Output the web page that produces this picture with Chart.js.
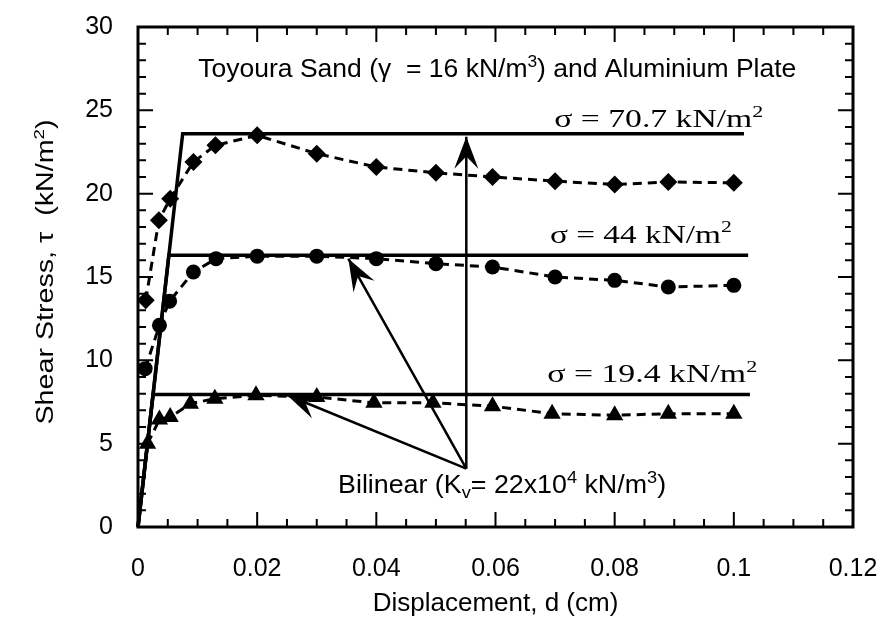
<!DOCTYPE html>
<html>
<head>
<meta charset="utf-8">
<script src="https://cdn.jsdelivr.net/npm/chart.js@4.4.0/dist/chart.umd.min.js"></script>
<style>
  html, body { margin: 0; padding: 0; background: #fff; }
</style>
</head>
<body>
<canvas id="shearChart" width="880" height="622"></canvas>
<script>
// values: displacement d (cm), shear stress tau (kN/m2)

// sigma = 70.7 kN/m2 (diamonds)
const dispHigh = [0.0013, 0.0035, 0.0054, 0.0093, 0.013, 0.02, 0.03, 0.04, 0.05, 0.0595, 0.07, 0.08, 0.089, 0.1];
const tauHigh = [13.6, 18.4, 19.7, 21.9, 22.9, 23.5, 22.4, 21.6, 21.25, 21.0, 20.75, 20.55, 20.7, 20.65];

// sigma = 44 kN/m2 (circles)
const dispMid = [0.0012, 0.0036, 0.0053, 0.0093, 0.0131, 0.02, 0.03, 0.04, 0.05, 0.0595, 0.07, 0.08, 0.089, 0.1];
const tauMid = [9.5, 12.1, 13.55, 15.3, 16.1, 16.25, 16.25, 16.1, 15.8, 15.6, 15.0, 14.8, 14.4, 14.5];

// sigma = 19.4 kN/m2 (triangles)
const dispLow = [0.0016, 0.0036, 0.0054, 0.0088, 0.0129, 0.0198, 0.03, 0.0396, 0.0495, 0.0595, 0.0695, 0.08, 0.089, 0.1];
const tauLow = [5.0, 6.45, 6.6, 7.4, 7.7, 7.9, 7.8, 7.45, 7.45, 7.25, 6.8, 6.7, 6.8, 6.8];

// bilinear model: common initial slope, then a plateau per sigma
const bilinearCornerD = 0.0075;   // d at the top corner
const bilinearTau = [23.6, 16.3, 7.95];
const bilinearEnd = [0.1017, 0.1024, 0.1027];

// arrows from the "Bilinear" label up to each plateau
const arrowTail = [0.0551, 3.5];
const arrowTipD = [0.0551, 0.0353, 0.025];
const arrowTipTau = [23.42, 16.1, 7.92];

const sigmaLabels = ['70.7', '44', '19.4'];

const SANS = "'Liberation Sans', Arial, Helvetica, sans-serif";
const SERIF = "'Liberation Serif', 'Times New Roman', serif";

function toPoints(xs, ys) {
    return xs.map((x, i) => ({ x: x, y: ys[i] }));
}

function bilinearPoints(k) {
    const level = bilinearTau[k];
    const yieldD = bilinearCornerD * level / bilinearTau[0];
    return [{ x: 0, y: 0 }, { x: yieldD, y: level }, { x: bilinearEnd[k], y: level }];
}

function dashed(data, style, radius) {
    return {
        data: data,
        borderColor: '#000',
        backgroundColor: '#000',
        borderWidth: 3,
        borderDash: [9, 6],
        pointStyle: style,
        pointRadius: radius,
        pointBorderWidth: 0,
        clip: false,
    };
}

function solid(data) {
    return {
        data: data,
        borderColor: '#000',
        borderWidth: 3.5,
        pointRadius: 0,
        clip: false,
    };
}

// text with superscripts / subscripts, centred on (cx, baseY);
// width (optional) stretches the run horizontally to that many pixels
function drawRich(ctx, parts, cx, baseY, size, family, width, angle) {
    const small = Math.round(size * 0.66);
    let total = 0;
    parts.forEach(p => {
        ctx.font = (p[1] ? small : size) + 'px ' + family;
        total += ctx.measureText(p[0]).width;
    });
    const sx = width ? width / total : 1;
    ctx.save();
    ctx.translate(cx, baseY);
    if (angle) ctx.rotate(angle);
    ctx.scale(sx, 1);
    let x = -total / 2;
    parts.forEach(p => {
        ctx.font = (p[1] ? small : size) + 'px ' + family;
        let y = 0;
        if (p[1] > 0) y -= size * 0.4;
        if (p[1] < 0) y += size * 0.22;
        ctx.fillText(p[0], x, y);
        x += ctx.measureText(p[0]).width;
    });
    ctx.restore();
}

function arrowHead(ctx, fx, fy, tx, ty, len, width) {
    const ang = Math.atan2(ty - fy, tx - fx);
    const ux = Math.cos(ang), uy = Math.sin(ang);
    const nx = -uy, ny = ux;
    ctx.beginPath();
    ctx.moveTo(tx, ty);
    ctx.lineTo(tx - ux * len + nx * width / 2, ty - uy * len + ny * width / 2);
    ctx.lineTo(tx - ux * len * 0.62, ty - uy * len * 0.62);
    ctx.lineTo(tx - ux * len - nx * width / 2, ty - uy * len - ny * width / 2);
    ctx.closePath();
    ctx.fill();
}

// box round the plot with inward ticks on all four sides
const framePlugin = {
    id: 'frame',
    afterDraw(chart) {
        const { ctx, chartArea: a, scales: { x, y } } = chart;
        ctx.save();
        ctx.strokeStyle = '#000';
        ctx.lineWidth = 2;
        ctx.beginPath();
        for (let i = 1; i < 24; i++) {
            const px = x.getPixelForValue(i * 0.005);
            const len = i % 4 === 0 ? 15 : 8;
            ctx.moveTo(px, a.bottom); ctx.lineTo(px, a.bottom - len);
            ctx.moveTo(px, a.top); ctx.lineTo(px, a.top + len);
        }
        for (let i = 1; i < 30; i++) {
            const py = y.getPixelForValue(i);
            const len = i % 5 === 0 ? 15 : 8;
            ctx.moveTo(a.left, py); ctx.lineTo(a.left + len, py);
            ctx.moveTo(a.right, py); ctx.lineTo(a.right - len, py);
        }
        ctx.stroke();
        ctx.lineWidth = 3;
        ctx.strokeRect(a.left, a.top, a.right - a.left, a.bottom - a.top);
        ctx.restore();
    }
};

// labels and arrows, placed in data units
const notesPlugin = {
    id: 'notes',
    afterDatasetsDraw(chart) {
        const { ctx, chartArea: a, scales: { x, y } } = chart;
        ctx.save();
        ctx.fillStyle = '#000';
        ctx.strokeStyle = '#000';
        ctx.textBaseline = 'alphabetic';
        ctx.textAlign = 'left';

        // y axis title (rotated, with a real superscript)
        drawRich(ctx, [['Shear Stress, \u03c4  (kN/m', 0], ['2', 1], [')', 0]],
            a.left - 85, (a.top + a.bottom) / 2 - 5, 23, SANS, 305, -Math.PI / 2);

        drawRich(ctx, [['Toyoura Sand (\u03b3  = 16 kN/m', 0], ['3', 1], [') and Aluminium Plate', 0]],
            x.getPixelForValue(0.0603), y.getPixelForValue(27.0), 26, SANS, 598);

        const sigmaPos = [[0.0874, 24.0], [0.0844, 17.05], [0.0863, 8.7]];
        const sigmaWidth = [209, 182, 210];
        sigmaLabels.forEach((s, k) => {
            drawRich(ctx, [['\u03c3 = ' + s + ' kN/m', 0], ['2', 1]],
                x.getPixelForValue(sigmaPos[k][0]), y.getPixelForValue(sigmaPos[k][1]), 26, SERIF, sigmaWidth[k]);
        });

        drawRich(ctx, [['Bilinear (K', 0], ['v', -1], ['= 22x10', 0], ['4', 1], [' kN/m', 0], ['3', 1], [')', 0]],
            x.getPixelForValue(0.0611), y.getPixelForValue(2.05), 25, SANS, 328);

        const fx = x.getPixelForValue(arrowTail[0]);
        const fy = y.getPixelForValue(arrowTail[1]);
        ctx.lineWidth = 2.5;
        arrowTipD.forEach((d, k) => {
            const tx = x.getPixelForValue(d);
            const ty = y.getPixelForValue(arrowTipTau[k]);
            ctx.beginPath();
            ctx.moveTo(fx, fy);
            ctx.lineTo(tx, ty);
            ctx.stroke();
            arrowHead(ctx, fx, fy, tx, ty, 32, 24);
        });
        ctx.restore();
    }
};

new Chart(document.getElementById('shearChart'), {
    type: 'line',
    data: {
        datasets: [
            solid(bilinearPoints(0)),
            solid(bilinearPoints(1)),
            solid(bilinearPoints(2)),
            dashed(toPoints(dispHigh, tauHigh), 'rectRot', 9),
            dashed(toPoints(dispMid, tauMid), 'circle', 7.5),
            dashed(toPoints(dispLow, tauLow), 'triangle', 10),
        ],
    },
    options: {
        responsive: false,
        animation: false,
        devicePixelRatio: 1,
        layout: { padding: { top: 27, right: 27, left: 0, bottom: 0 } },
        plugins: { legend: { display: false }, tooltip: { enabled: false } },
        scales: {
            x: {
                type: 'linear',
                min: 0,
                max: 0.12,
                // fixed height; drop the end-label overhang so the layout padding decides
                afterFit: s => { s.height = 95; s.paddingLeft = 0; s.paddingRight = 0; },
                grid: { display: false, drawTicks: false },
                border: { display: false },
                ticks: {
                    stepSize: 0.02,
                    padding: 27,
                    color: '#000',
                    font: { family: SANS, size: 25 },
                    maxRotation: 0,
                    callback: v => String(Math.round(v * 100) / 100),
                },
                title: {
                    display: true,
                    text: 'Displacement, d (cm)',
                    color: '#000',
                    font: { family: SANS, size: 26 },
                    padding: { top: 0, bottom: 3 },
                },
            },
            y: {
                min: 0,
                max: 30,
                afterFit: s => { s.width = 138; s.paddingTop = 0; s.paddingBottom = 0; },
                grid: { display: false, drawTicks: false },
                border: { display: false },
                ticks: {
                    stepSize: 5,
                    padding: 25,
                    color: '#000',
                    font: { family: SANS, size: 25 },
                },
            },
        },
    },
    plugins: [framePlugin, notesPlugin],
});
</script>
</body>
</html>
